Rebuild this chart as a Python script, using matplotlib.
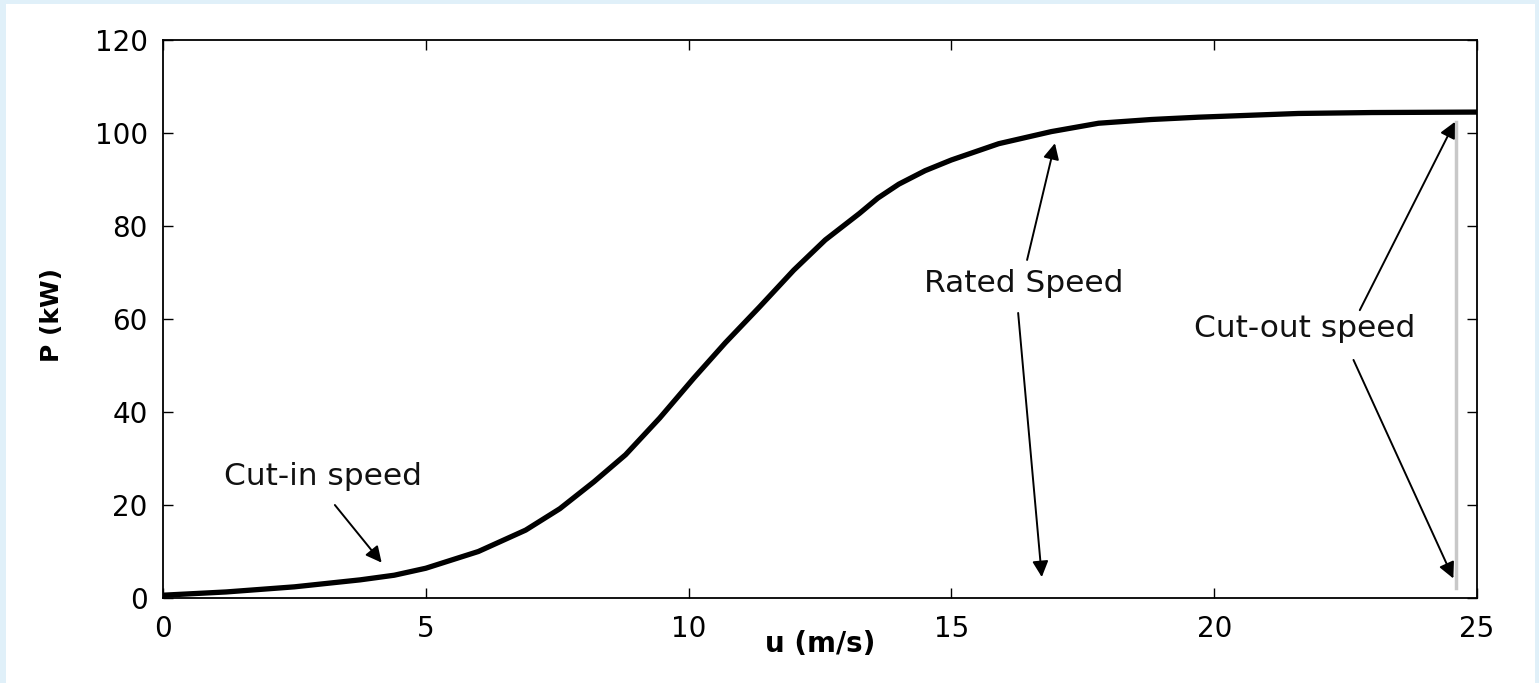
import matplotlib
matplotlib.use('Agg')
import matplotlib.pyplot as plt
from matplotlib.patches import Rectangle

plt.rcParams['font.family'] = ['DejaVu Sans']

# power curve readings: wind speed (m/s) vs power (kW)
u = [0, 1.2, 2.5, 3.75, 4.4, 5.0, 6.0, 6.9, 7.55, 8.2, 8.8, 9.45, 10.1,
     10.7, 11.35, 12.0, 12.6, 13.25, 13.6, 14.0, 14.5, 15.0, 15.9, 16.9,
     17.8, 18.8, 19.7, 21.6, 23.0, 25.0]
P = [0.6, 1.3, 2.4, 3.9, 4.9, 6.4, 10.0, 14.6, 19.2, 25.0, 30.8, 38.7, 47.3,
     54.9, 62.6, 70.5, 77.0, 82.7, 86.0, 89.0, 91.9, 94.2, 97.7, 100.3,
     102.1, 102.9, 103.4, 104.2, 104.4, 104.5]

x_ticks = [0, 5, 10, 15, 20, 25]
y_ticks = [0, 20, 40, 60, 80, 100, 120]

# cut-out marker line
cutout_u = 24.6
cutout_P = [2.2, 102.4]

# (label, text x, text y, [(arrow start, arrow tip), ...])
notes = [
    ('Cut-in speed', 3.05, 24.2, [((3.27, 20.0), (4.16, 7.6))]),
    ('Rated Speed', 16.38, 65.9, [((16.44, 72.7), (16.97, 97.8)),
                                  ((16.27, 61.3), (16.72, 4.5))]),
    ('Cut-out speed', 21.73, 56.1, [((22.77, 61.9), (24.58, 102.4)),
                                    ((22.65, 51.2), (24.55, 4.2))]),
]

fig = plt.figure(figsize=(15.39, 6.83), dpi=100, facecolor='#e0f0f9')
panel = Rectangle((6 / 1539, 0), 1529 / 1539, 679 / 683,
                  transform=fig.transFigure, facecolor='white',
                  edgecolor='none', zorder=-10)
fig.add_artist(panel)

ax = fig.add_axes([163 / 1539, 1 - 598 / 683, 1314 / 1539, 558 / 683])
ax.set_facecolor('white')

ax.plot([cutout_u, cutout_u], cutout_P, color='#c8c8c8', lw=2.5, zorder=2)
ax.plot(u, P, color='black', lw=3.8, solid_capstyle='round',
        solid_joinstyle='round', zorder=3)

for label, tx, ty, arrows in notes:
    ax.text(tx, ty, label, ha='center', va='baseline', fontsize=22.5,
            color='#111111')
    for start, tip in arrows:
        ax.annotate('', xy=tip, xytext=start,
                    arrowprops=dict(arrowstyle='-|>', color='black', lw=1.4,
                                    mutation_scale=24, shrinkA=0, shrinkB=0))

ax.set_xlim(0, 25)
ax.set_ylim(0, 120)
ax.set_xticks(x_ticks)
ax.set_yticks(y_ticks)
ax.tick_params(direction='in', top=True, right=True, length=7, width=1,
               labelsize=20)
ax.tick_params(axis='x', pad=12)
ax.tick_params(axis='y', pad=11)
for sp in ax.spines.values():
    sp.set_linewidth(1.3)

ax.set_xlabel('u (m/s)', fontsize=20, fontweight='bold')
ax.set_ylabel('P (kW)', fontsize=18, fontweight='bold')
ax.xaxis.set_label_coords(0.5, -0.082)
ax.yaxis.set_label_coords(-0.0845, 0.507)
ax.xaxis.label.set_va('center')
ax.yaxis.label.set_va('center')

plt.savefig('out.png', dpi=100, facecolor=fig.get_facecolor())
